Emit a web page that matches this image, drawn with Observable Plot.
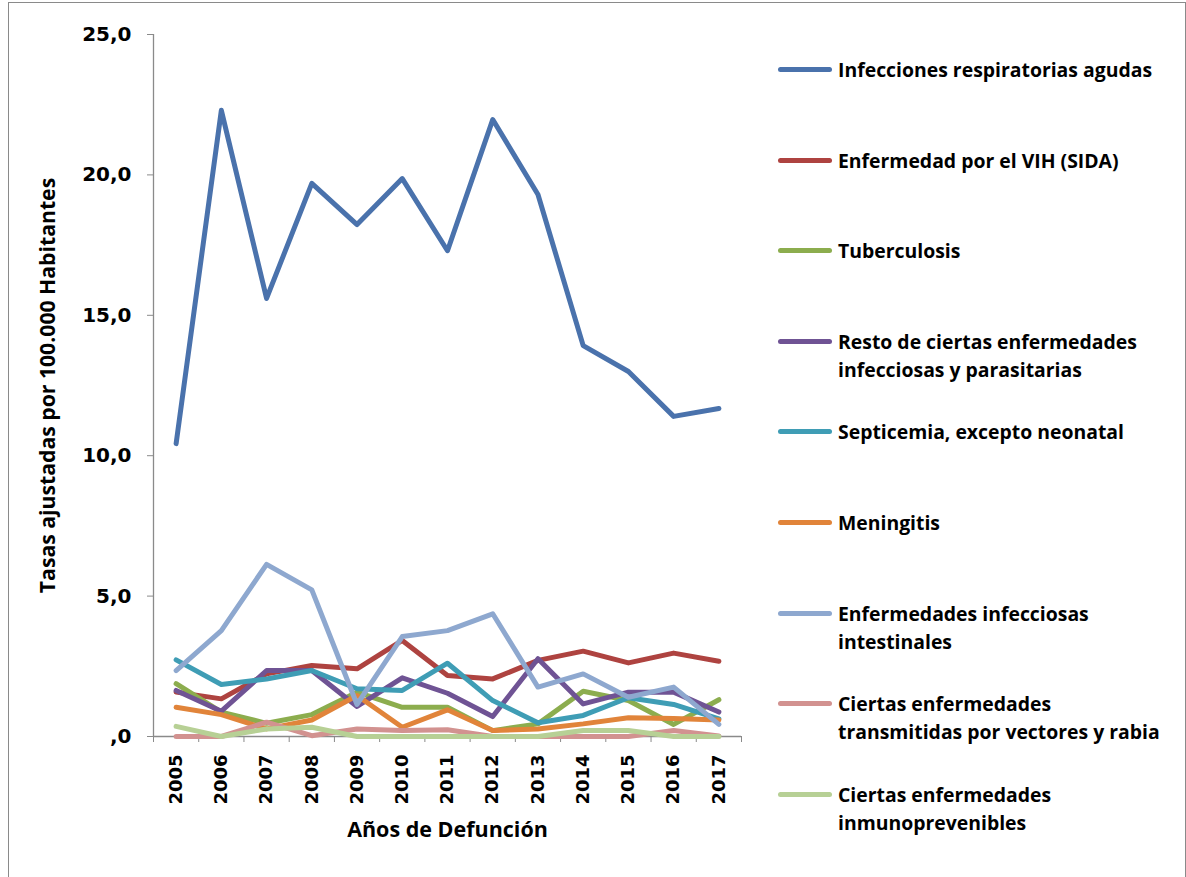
<!DOCTYPE html>
<html>
<head>
<meta charset="utf-8">
<script src="https://cdn.jsdelivr.net/npm/d3@7"></script>
<script src="https://cdn.jsdelivr.net/npm/@observablehq/plot@0.6"></script>
<style>
  html, body { margin: 0; padding: 0; background: #fff; }
  #wrap { position: relative; width: 1186px; height: 877px; overflow: hidden; }
  #border { position: absolute; left: 8px; top: 2px; width: 1176px; height: 900px;
            border-left: 1px solid #8a8a8a; border-top: 1px solid #8a8a8a; border-right: 1px solid #8a8a8a; }
  #chart { position: absolute; left: 0; top: 0; }
  .leg { position: absolute; left: 778px; font-family: "Open Sans", Lato, sans-serif; font-weight: 700;
         font-size: 19.4px; color: #000; line-height: 28px; }
  .leg .sw { position: absolute; left: 0; top: 11px; width: 54px; height: 5px; border-radius: 3px; }
  .leg .tx { margin-left: 60px; white-space: nowrap; }
</style>
</head>
<body>
<div id="wrap">
  <div id="border"></div>
  <div id="chart"></div>
</div>
<script>
const years = [2005, 2006, 2007, 2008, 2009, 2010, 2011, 2012, 2013, 2014, 2015, 2016, 2017];

const seriesNames = [
  "Infecciones respiratorias agudas",
  "Enfermedad por el VIH (SIDA)",
  "Tuberculosis",
  "Resto de ciertas enfermedades infecciosas y parasitarias",
  "Septicemia, excepto neonatal",
  "Meningitis",
  "Enfermedades infecciosas intestinales",
  "Ciertas enfermedades transmitidas por vectores y rabia",
  "Ciertas enfermedades inmunoprevenibles"
];

const legendLines = [
  ["Infecciones respiratorias agudas"],
  ["Enfermedad por el VIH (SIDA)"],
  ["Tuberculosis"],
  ["Resto de ciertas enfermedades", "infecciosas y parasitarias"],
  ["Septicemia, excepto neonatal"],
  ["Meningitis"],
  ["Enfermedades infecciosas", "intestinales"],
  ["Ciertas enfermedades", "transmitidas por vectores y rabia"],
  ["Ciertas enfermedades", "inmunoprevenibles"]
];

const seriesColors = ["#4A72AC", "#AE4340", "#8CAD4E", "#6F5394", "#3F9DB5", "#E1843A", "#8EA8CF", "#D29290", "#B7D095"];

const respiratorias   = [10.43, 22.30, 15.60, 19.70, 18.23, 19.87, 17.30, 21.97, 19.30, 13.92, 13.00, 11.40, 11.68];
const vih             = [1.58, 1.34, 2.23, 2.53, 2.41, 3.42, 2.17, 2.05, 2.71, 3.04, 2.62, 2.97, 2.68];
const tuberculosis    = [1.88, 0.87, 0.47, 0.78, 1.58, 1.04, 1.04, 0.21, 0.45, 1.61, 1.28, 0.43, 1.31];
const restoInfecc     = [1.64, 0.90, 2.35, 2.35, 1.07, 2.09, 1.54, 0.71, 2.77, 1.16, 1.58, 1.58, 0.87];
const septicemia      = [2.73, 1.85, 2.05, 2.35, 1.70, 1.64, 2.61, 1.28, 0.49, 0.75, 1.38, 1.14, 0.63];
const meningitis      = [1.04, 0.78, 0.27, 0.59, 1.46, 0.33, 0.95, 0.21, 0.27, 0.45, 0.67, 0.64, 0.59];
const intestinales    = [2.35, 3.77, 6.13, 5.22, 1.14, 3.56, 3.77, 4.37, 1.76, 2.23, 1.40, 1.76, 0.43];
const vectores        = [0.00, 0.00, 0.51, 0.03, 0.27, 0.21, 0.24, 0.00, 0.00, 0.00, 0.00, 0.21, 0.02];
const inmunoprev      = [0.36, 0.00, 0.27, 0.33, 0.00, 0.00, 0.00, 0.00, 0.00, 0.21, 0.21, 0.00, 0.00];

const seriesValues = [respiratorias, vih, tuberculosis, restoInfecc, septicemia, meningitis, intestinales, vectores, inmunoprev];
const yTicks = [0, 5, 10, 15, 20, 25];

const data = [];
seriesNames.forEach((name, i) => {
  years.forEach((yr, j) => data.push({serie: name, year: yr, value: seriesValues[i][j]}));
});

const xLo = years[0] - 0.5, xHi = years[years.length - 1] + 0.5;
const boundaries = years.map(y => y - 0.5).concat([xHi]);
const axisColor = "#8a8a8a";
const tickFont = "DejaVu Sans, Verdana, sans-serif";
const titleFont = "'Open Sans', Lato, sans-serif";
const fmt = v => v === 0 ? ",0" : v.toFixed(1).replace(".", ",");

const chart = Plot.plot({
  width: 1186,
  height: 877,
  marginLeft: 153,
  marginRight: 445,
  marginTop: 34,
  marginBottom: 141,
  style: {fontFamily: tickFont, fontSize: "18px", fontWeight: "bold", color: "#000", background: "transparent"},
  x: {type: "linear", domain: [xLo, xHi]},
  y: {domain: [0, 25]},
  color: {domain: seriesNames, range: seriesColors},
  marks: [
    Plot.ruleX([xLo], {stroke: axisColor, strokeWidth: 1.3}),
    Plot.ruleY([0], {stroke: axisColor, strokeWidth: 1.3}),
    Plot.axisY({ticks: yTicks, tickSize: 6, tickPadding: 16, tickFormat: fmt, stroke: axisColor, label: null,
                fontSize: 20, fontWeight: "bold", fill: "#000"}),
    Plot.axisX({ticks: boundaries, tickSize: 6, tickFormat: () => "", stroke: axisColor, label: null}),
    Plot.axisX({ticks: years, tickSize: 0, tickPadding: 18, tickRotate: -90, tickFormat: d => String(d), label: null,
                fontSize: 18, fontWeight: "bold", fill: "#000"}),
    Plot.line(data, {x: "year", y: "value", z: "serie", stroke: "serie", strokeWidth: 5,
                     strokeLinejoin: "round", strokeLinecap: "round"}),
    Plot.text(["Tasas ajustadas por 100.000 Habitantes"], {frameAnchor: "left", dx: -105, rotate: -90,
                textAnchor: "middle", lineAnchor: "middle",
                text: d => d, fontFamily: titleFont, fontSize: 21.2, fontWeight: "bold", fill: "#000"}),
    Plot.text(["Años de Defunción"], {frameAnchor: "bottom", dy: 100, text: d => d,
                fontFamily: titleFont, fontSize: 21.5, fontWeight: "bold", fill: "#000"})
  ]
});
document.getElementById("chart").appendChild(chart);

const wrap = document.getElementById("wrap");
const legTop0 = 56, legStep = 90.6;
legendLines.forEach((lines, i) => {
  const d = document.createElement("div");
  d.className = "leg";
  d.style.top = (legTop0 + i * legStep) + "px";
  const sw = document.createElement("div");
  sw.className = "sw";
  sw.style.background = seriesColors[i];
  d.appendChild(sw);
  lines.forEach(t => {
    const tx = document.createElement("div");
    tx.className = "tx";
    tx.textContent = t;
    d.appendChild(tx);
  });
  wrap.appendChild(d);
});
</script>
</body>
</html>
